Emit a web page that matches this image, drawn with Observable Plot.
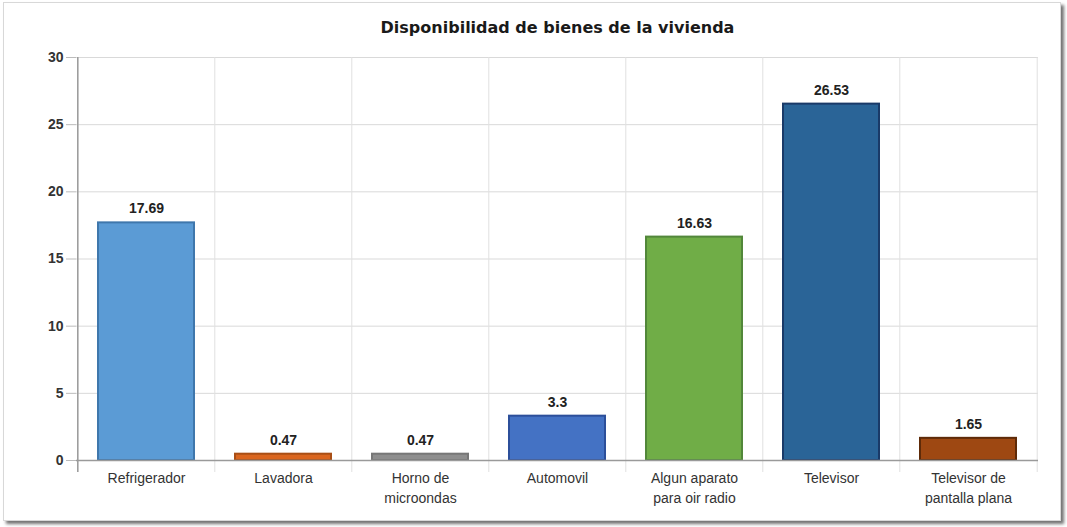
<!DOCTYPE html>
<html><head><meta charset="utf-8">
<script src="https://cdn.jsdelivr.net/npm/d3@7"></script>
<script src="https://cdn.jsdelivr.net/npm/@observablehq/plot@0.6"></script>
<style>
body{margin:0;background:#fff;font-family:"Liberation Sans",Arial,sans-serif;}
#frame{position:absolute;left:3px;top:2px;width:1056px;height:517px;border:1px solid #d8d8d8;box-shadow:3px 3px 3px rgba(0,0,0,0.55);background:#fff;}
#chart{position:absolute;left:0;top:0;}
</style></head>
<body>
<div id="frame"></div>
<div id="chart"></div>
<script>
const title = "Disponibilidad de bienes de la vivienda";
const categories = ["Refrigerador","Lavadora","Horno de\nmicroondas","Automovil","Algun aparato\npara oir radio","Televisor","Televisor de\npantalla plana"];
const values = [17.69, 0.47, 0.47, 3.3, 16.63, 26.53, 1.65];
const labels = ["17.69","0.47","0.47","3.3","16.63","26.53","1.65"];
const fills = ["#5B9BD5","#DA661F","#8E8E8E","#4472C4","#70AD47","#2A6497","#9E4812"];
const strokes = ["#3F77AC","#A94F16","#777777","#2C4F9A","#52873A","#1A3A68","#5E2A08"];
const yTicks = [0,5,10,15,20,25,30];

const data = categories.map((c,i)=>({cat:c, value:values[i], label:labels[i], fill:fills[i], stroke:strokes[i]}));

const W = 1067, H = 527, ML = 76, MR = 29, MT = 57, MB = 67;
const step = (W - ML - MR) / categories.length;

const chart = Plot.plot({
  width: W, height: H,
  marginLeft: ML, marginRight: MR, marginTop: MT, marginBottom: MB,
  style: {fontFamily: "'Liberation Sans', Arial, sans-serif", background: "transparent"},
  x: {domain: categories, paddingInner: 0.3, paddingOuter: 0.15, label: null},
  y: {domain: [0, 30], label: null},
  marks: [
    Plot.ruleY(yTicks, {stroke: "#d9d9d9", strokeWidth: 1}),
    Plot.ruleX(categories, {x: d => d, dx: -step/2, stroke: "#e0e0e0", insetBottom: -12}),
    Plot.ruleX(categories.slice(-1), {x: d => d, dx: step/2, stroke: "#e0e0e0", insetBottom: -12}),
    Plot.barY(data, {x: "cat", y: "value", fill: "fill", stroke: "stroke", strokeWidth: 2}),
    Plot.ruleY([0], {stroke: "#9a9a9a", strokeWidth: 1.5}),
    Plot.ruleX(categories.slice(0,1), {x: d => d, dx: -step/2, stroke: "#9a9a9a", strokeWidth: 1.5, insetBottom: -12}),
    Plot.text(data, {x: "cat", y: "value", text: "label", dy: -14, fontSize: 14, fontWeight: "bold", fill: "#222"}),
    Plot.axisY({ticks: yTicks, tickSize: 10, tickPadding: 3, stroke: "#bbb", fontSize: 14, fontWeight: "bold", fill: "#333", label: null}),
    Plot.axisX({tickSize: 0, tickPadding: 8, fontSize: 14, fill: "#333", label: null, lineHeight: 1.45}),
    Plot.text([title], {frameAnchor: "top", dy: -25, fontSize: 16, fontWeight: "bold", fill: "#1a1a1a", fontFamily: "'DejaVu Sans', sans-serif", lineAnchor: "bottom"})
  ]
});
document.getElementById("chart").appendChild(chart);
</script>
</body></html>
